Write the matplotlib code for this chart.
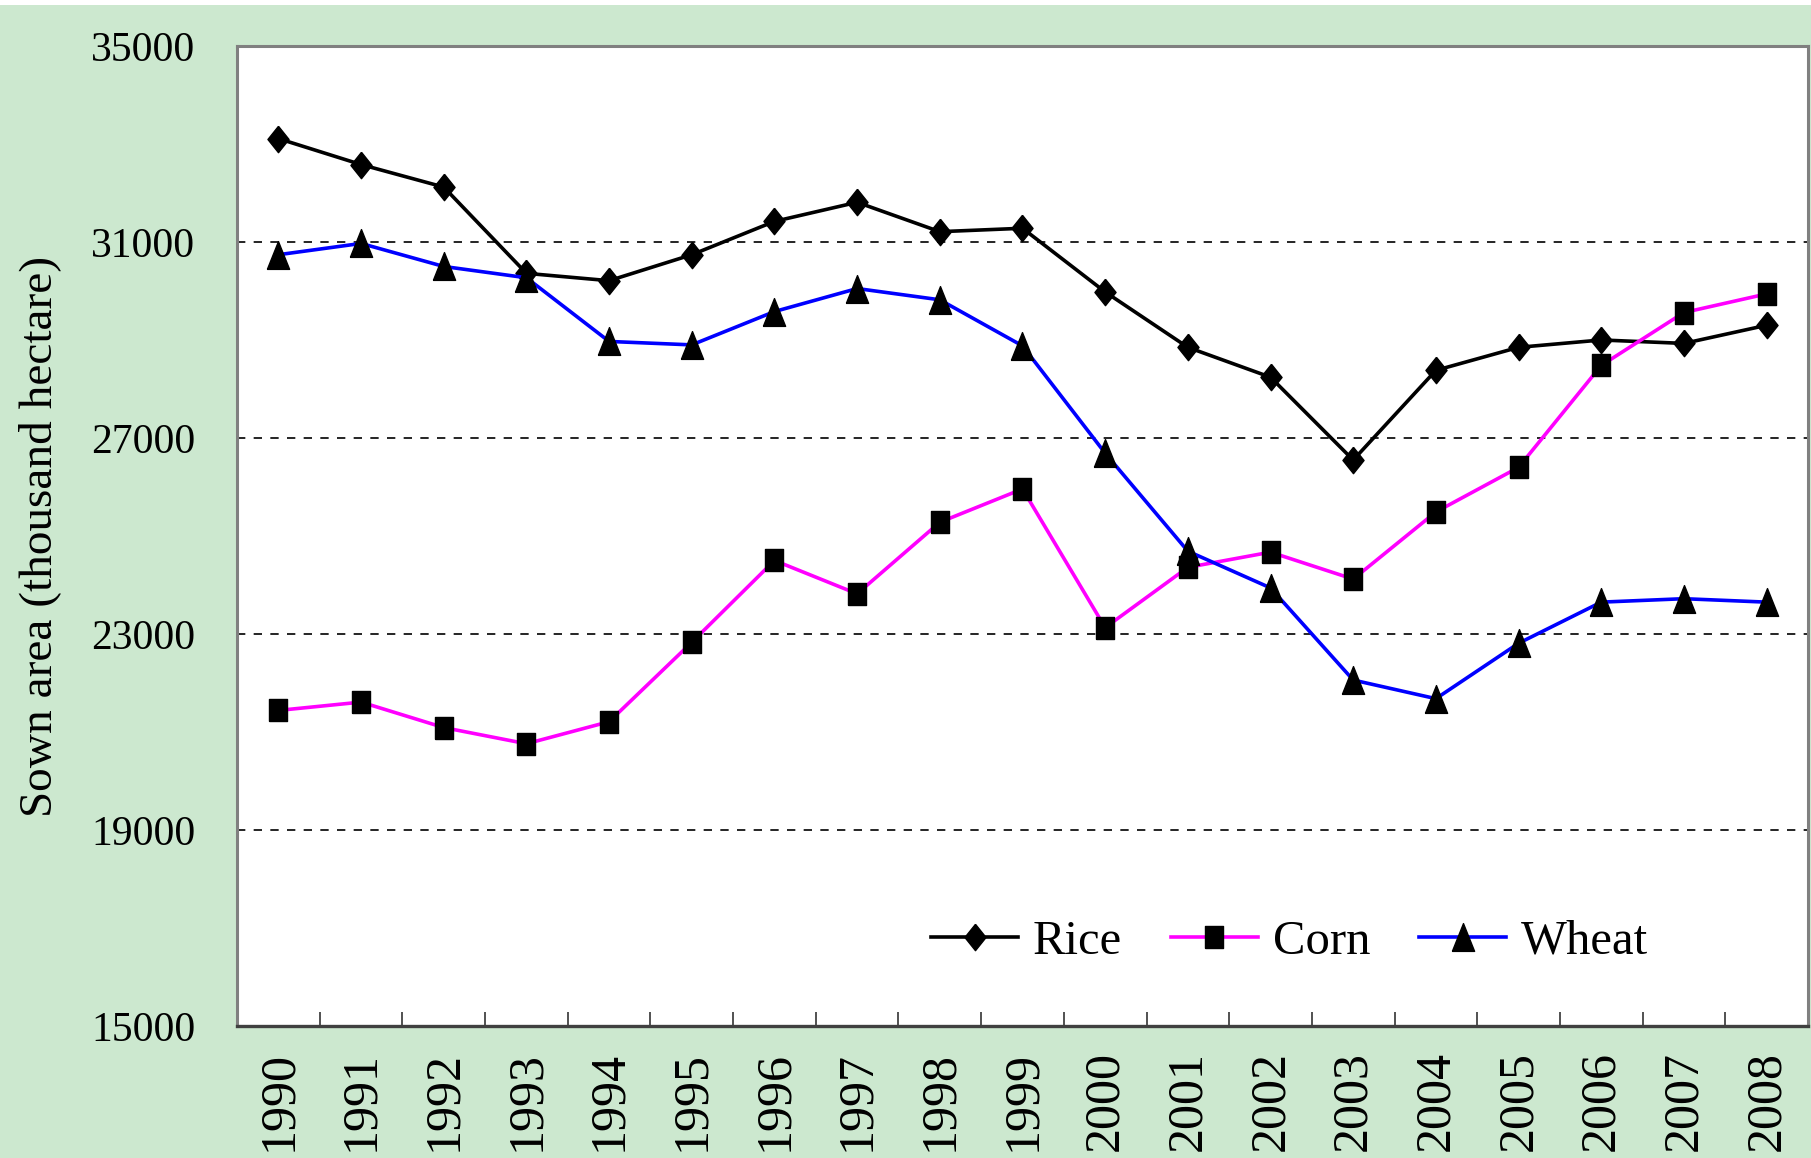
import matplotlib
matplotlib.use("Agg")
import matplotlib.pyplot as plt
from matplotlib.patches import Rectangle
from matplotlib.ticker import FixedLocator

years = [str(y) for y in range(1990, 2009)]
rice = [33110, 32580, 32120, 30360, 30210, 30740, 31420, 31810, 31210, 31280,
        29980, 28850, 28240, 26550, 28380, 28850, 29000, 28930, 29300]
corn = [21440, 21610, 21090, 20760, 21210, 22830, 24500, 23820, 25280, 25960,
        23130, 24360, 24670, 24120, 25490, 26400, 28480, 29560, 29940]
wheat = [30740, 30970, 30500, 30270, 28970, 28900, 29580, 30050, 29820, 28880,
         26690, 24690, 23940, 22060, 21680, 22810, 23650, 23720, 23650]
yticks = [15000, 19000, 23000, 27000, 31000, 35000]

bg = "#CCE8CF"
serif = ["Liberation Serif", "DejaVu Serif"]

# tall-ish markers like the original
diamond = [(0, 0.5), (0.4, 0), (0, -0.5), (-0.4, 0), (0, 0.5)]
square = [(-0.4, -0.5), (0.4, -0.5), (0.4, 0.5), (-0.4, 0.5), (-0.4, -0.5)]
triangle = [(-0.4, -0.5), (0.4, -0.5), (0, 0.5), (-0.4, -0.5)]

fig = plt.figure(figsize=(18.11, 11.58), dpi=100, facecolor=bg)
fig.patches.append(Rectangle((0, 1 - 5 / 1158), 1, 5 / 1158, transform=fig.transFigure,
                             facecolor="white", edgecolor="none", zorder=0))
ax = fig.add_axes([0.1309, 0.1140, 0.9983 - 0.1309, 0.9603 - 0.1140])
ax.set_facecolor("white")

x = list(range(len(years)))
ax.plot(x, rice, color="black", lw=2.6, marker=diamond, ms=19, mfc="black", mec="black",
        label="Rice", zorder=3)
ax.plot(x, corn, color="#FF00FF", lw=2.6, marker=square, ms=16, mfc="black", mec="black",
        label="Corn", zorder=3)
ax.plot(x, wheat, color="#0000FF", lw=2.6, marker=triangle, ms=20, mfc="black", mec="black",
        label="Wheat", zorder=3)

ax.set_xlim(-0.5, len(years) - 0.5)
ax.set_ylim(15000, 35000)
ax.set_yticks(yticks)
ax.set_yticklabels([str(v) for v in yticks], fontfamily=serif, fontsize=30)
ax.tick_params(axis="y", length=0, pad=30)
for v in yticks[1:-1]:
    ax.axhline(v, color="black", lw=1.2, ls=(0, (5, 5)), zorder=1)

ax.set_xticks(x)
ax.set_xticklabels(years, rotation=90, fontfamily=serif, fontsize=36)
ax.tick_params(axis="x", which="major", length=0, pad=18)
ax.xaxis.set_minor_locator(FixedLocator([i + 0.5 for i in range(len(years) - 1)]))
ax.tick_params(axis="x", which="minor", direction="in", length=10, width=1.2, color="#333333")

for s in ["top", "left", "right"]:
    ax.spines[s].set_color("#808080")
    ax.spines[s].set_linewidth(2.2)
ax.spines["bottom"].set_color("#404040")
ax.spines["bottom"].set_linewidth(2.4)

ax.set_ylabel("Sown area (thousand hectare)", fontfamily=serif, fontsize=34, labelpad=22)

ax.legend(loc="center", bbox_to_anchor=(0.67, 0.086), ncol=3, frameon=False,
          prop={"family": serif, "size": 35}, handlelength=1.8, handletextpad=0.3,
          columnspacing=1.0)

fig.savefig("out.png", dpi=100, facecolor=bg)
